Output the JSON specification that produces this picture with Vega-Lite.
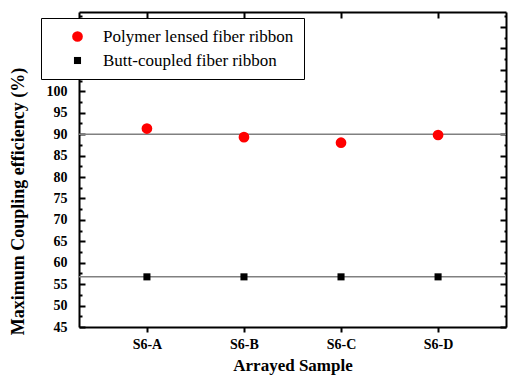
{
  "$schema": "https://vega.github.io/schema/vega-lite/v6.json",
  "autosize": {"type": "none"},
  "padding": {"left": 79, "top": 12, "right": 3, "bottom": 51},
  "width": 427,
  "height": 315,
  "background": "white",
  "config": {
    "view": {"stroke": null},
    "font": "Liberation Serif",
    "legend": {"labelFont": "Liberation Serif", "titleFont": "Liberation Serif"},
    "axis": {"domainColor": "black", "domainWidth": 2, "tickColor": "black", "tickWidth": 2, "labelFont": "Liberation Serif", "titleFont": "Liberation Serif", "grid": false}
  },
  "datasets": {
    "pts": [
      {"sample": "S6-A", "series": "Polymer lensed fiber ribbon", "value": 91.3},
      {"sample": "S6-B", "series": "Polymer lensed fiber ribbon", "value": 89.3},
      {"sample": "S6-C", "series": "Polymer lensed fiber ribbon", "value": 88.0},
      {"sample": "S6-D", "series": "Polymer lensed fiber ribbon", "value": 89.8},
      {"sample": "S6-A", "series": "Butt-coupled fiber ribbon", "value": 56.7},
      {"sample": "S6-B", "series": "Butt-coupled fiber ribbon", "value": 56.7},
      {"sample": "S6-C", "series": "Butt-coupled fiber ribbon", "value": 56.7},
      {"sample": "S6-D", "series": "Butt-coupled fiber ribbon", "value": 56.7}
    ],
    "refs": [{"ref": 90}, {"ref": 56.7}]
  },
  "layer": [
    {
      "data": {"name": "refs"},
      "mark": {"type": "rule", "color": "#808080", "strokeWidth": 1.5},
      "encoding": {
        "y": {
          "field": "ref", "type": "quantitative",
          "scale": {"domain": [45, 118.5], "nice": false, "zero": false},
          "axis": {
            "orient": "right", "labels": false, "title": null,
            "values": [45, 47.5, 50, 52.5, 55, 57.5, 60, 62.5, 65, 67.5, 70, 72.5, 75, 77.5, 80, 82.5, 85, 87.5, 90, 92.5, 95, 97.5, 100, 102.5, 105, 107.5, 110, 112.5, 115, 117.5],
            "tickSize": {"condition": {"test": "datum.value % 5 === 0", "value": -6}, "value": -2}
          }
        }
      }
    },
    {
      "data": {"name": "pts"},
      "transform": [{"filter": "datum.series === 'Polymer lensed fiber ribbon'"}],
      "mark": {"type": "point", "filled": true, "opacity": 1},
      "encoding": {
        "x": {
          "field": "sample", "type": "ordinal",
          "scale": {"type": "point", "padding": 0.7},
          "axis": {"orient": "bottom", "labelAngle": 0, "tickSize": 5, "labelFontSize": 14, "labelFontWeight": "bold", "labelPadding": 5, "title": "Arrayed Sample", "titleFontSize": 17, "titleFontWeight": "bold", "titlePadding": 6}
        },
        "y": {
          "field": "value", "type": "quantitative",
          "scale": {"domain": [45, 118.5], "nice": false, "zero": false},
          "axis": {
            "orient": "left",
            "values": [45, 47.5, 50, 52.5, 55, 57.5, 60, 62.5, 65, 67.5, 70, 72.5, 75, 77.5, 80, 82.5, 85, 87.5, 90, 92.5, 95, 97.5, 100, 102.5, 105, 107.5, 110, 112.5, 115, 117.5],
            "tickSize": {"condition": {"test": "datum.value % 5 === 0", "value": -6}, "value": -3},
            "labelExpr": "datum.value % 5 === 0 && datum.value <= 100 ? datum.label : ''",
            "labelFontSize": 14, "labelFontWeight": "bold", "labelPadding": 18,
            "title": "Maximum Coupling efficiency (%)", "titleFontSize": 18, "titleFontWeight": "bold", "titleY": 189, "titlePadding": 19
          }
        },
        "color": {"field": "series", "type": "nominal", "scale": {"domain": ["Polymer lensed fiber ribbon", "Butt-coupled fiber ribbon"], "range": ["#ff0000", "#000000"]},
          "legend": {"orient": "none", "legendX": -38, "legendY": 6, "title": null, "fillColor": "white", "strokeColor": "black", "padding": 10, "labelFont": "Liberation Serif", "labelFontSize": 17, "labelLimit": 400, "symbolOffset": 18, "labelOffset": 17, "rowPadding": 6, "symbolStrokeWidth": 0}},
        "shape": {"field": "series", "type": "nominal", "scale": {"domain": ["Polymer lensed fiber ribbon", "Butt-coupled fiber ribbon"], "range": ["circle", "square"]}},
        "size": {"field": "series", "type": "nominal", "scale": {"domain": ["Polymer lensed fiber ribbon", "Butt-coupled fiber ribbon"], "range": [115, 50]}}
      }
    },
    {
      "data": {"name": "pts"},
      "transform": [{"filter": "datum.series === 'Butt-coupled fiber ribbon'"}],
      "mark": {"type": "point", "filled": true, "opacity": 1},
      "encoding": {
        "x": {
          "field": "sample", "type": "ordinal",
          "scale": {"type": "point", "padding": 0.7},
          "axis": {"orient": "top", "labels": false, "tickSize": -6, "title": null}
        },
        "y": {"field": "value", "type": "quantitative", "axis": null},
        "color": {"field": "series", "type": "nominal"},
        "shape": {"field": "series", "type": "nominal"},
        "size": {"field": "series", "type": "nominal"}
      }
    }
  ],
  "resolve": {"axis": {"x": "independent", "y": "independent"}}
}
